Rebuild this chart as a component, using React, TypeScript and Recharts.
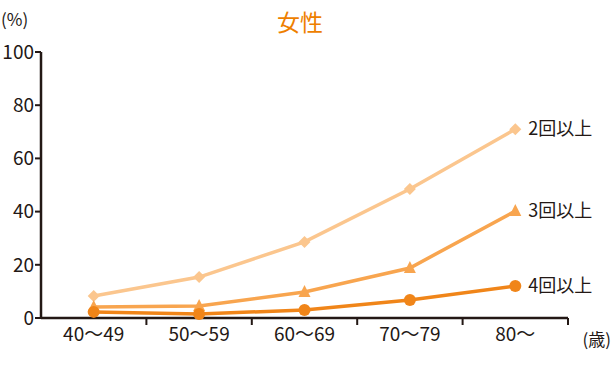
import React from "react";
import { LineChart, Line, XAxis, YAxis } from "recharts";

const AGES = ["40〜49", "50〜59", "60〜69", "70〜79", "80〜"];
const TWO_PLUS = [8.3, 15.4, 28.6, 48.5, 71];
const THREE_PLUS = [4.1, 4.5, 9.8, 18.8, 40.2];
const FOUR_PLUS = [2.3, 1.5, 3.0, 6.8, 12];
const SERIES_NAMES = ["2回以上", "3回以上", "4回以上"];
const Y_TICKS = [0, 20, 40, 60, 80, 100];

const C2 = "#fbc68e";
const C3 = "#f8a54f";
const C4 = "#f08519";
const INK = "#231815";
const FONT = '"Noto Sans CJK JP", "Noto Sans", sans-serif';

const data = AGES.map((age, i) => ({
  x: i + 0.5,
  age,
  two: TWO_PLUS[i],
  three: THREE_PLUS[i],
  four: FOUR_PLUS[i],
}));

const xTicks = [0.5, 1, 1.5, 2, 2.5, 3, 3.5, 4, 4.5, 5];

function XTick(props: any) {
  const { x, y, payload } = props;
  const v = payload.value as number;
  if (Number.isInteger(v)) {
    return <line x1={x} x2={x} y1={y - 8} y2={y - 1} stroke={INK} strokeWidth={2} />;
  }
  return (
    <text x={x} y={y + 15} textAnchor="middle" fontSize={19} fill={INK} fontFamily={FONT}>
      {AGES[Math.floor(v)]}
    </text>
  );
}

function Diamond(props: any) {
  const { cx, cy } = props;
  if (cx == null) return null;
  const s = 6;
  return <path d={`M${cx},${cy - s}L${cx + s},${cy}L${cx},${cy + s}L${cx - s},${cy}Z`} fill={C2} />;
}

function Tri(props: any) {
  const { cx, cy } = props;
  if (cx == null) return null;
  const s = 6;
  return <path d={`M${cx},${cy - s - 1}L${cx + s},${cy + s - 1}L${cx - s},${cy + s - 1}Z`} fill={C3} />;
}

function Circ(props: any) {
  const { cx, cy } = props;
  if (cx == null) return null;
  return <circle cx={cx} cy={cy} r={6} fill={C4} />;
}

function endLabel(name: string) {
  return (props: any) => {
    const { x, y, index } = props;
    if (index !== AGES.length - 1) return null;
    return (
      <text x={x + 13} y={y + 6} fontSize={18} fill={INK} fontFamily={FONT}>
        {name}
      </text>
    );
  };
}

export default function App() {
  return (
    <div style={{ position: "absolute", left: 0, top: 0, width: 616, height: 373, background: "#fff", overflow: "hidden" }}>
      <div
        style={{
          position: "absolute",
          left: 0,
          width: 616,
          top: 4,
          textAlign: "center",
          fontFamily: FONT,
          fontSize: 23,
          color: "#ee7f00",
        }}
      >
        <span style={{ position: "relative", left: -8 }}>女性</span>
      </div>
      <div style={{ position: "absolute", left: 1, top: 6, fontFamily: FONT, fontSize: 17, color: INK }}>(%)</div>
      <svg width={616} height={373} style={{ position: "absolute", left: 0, top: 0, pointerEvents: "none" }}>
        <text x={611} y={346} textAnchor="end" fontSize={17} fill={INK} fontFamily={FONT}>
          (歳)
        </text>
      </svg>
      <LineChart width={616} height={373} data={data} margin={{ top: 52, right: 48, left: 0, bottom: 25 }}>
        <XAxis
          dataKey="x"
          type="number"
          domain={[0, 5]}
          ticks={xTicks}
          interval={0}
          tick={<XTick />}
          tickLine={false}
          axisLine={{ stroke: INK, strokeWidth: 2.5 }}
          height={30}
        />
        <YAxis
          domain={[0, 100]}
          ticks={Y_TICKS}
          width={41}
          tickSize={6}
          tickMargin={1}
          axisLine={{ stroke: INK, strokeWidth: 2.5 }}
          tickLine={{ stroke: INK, strokeWidth: 2 }}
          tick={{ fill: INK, fontSize: 19, fontFamily: FONT }}
        />
        <Line
          dataKey="two"
          stroke={C2}
          strokeWidth={3.5}
          dot={<Diamond />}
          label={endLabel(SERIES_NAMES[0])}
          isAnimationActive={false}
        />
        <Line
          dataKey="three"
          stroke={C3}
          strokeWidth={3.5}
          dot={<Tri />}
          label={endLabel(SERIES_NAMES[1])}
          isAnimationActive={false}
        />
        <Line
          dataKey="four"
          stroke={C4}
          strokeWidth={3.5}
          dot={<Circ />}
          label={endLabel(SERIES_NAMES[2])}
          isAnimationActive={false}
        />
      </LineChart>
    </div>
  );
}
